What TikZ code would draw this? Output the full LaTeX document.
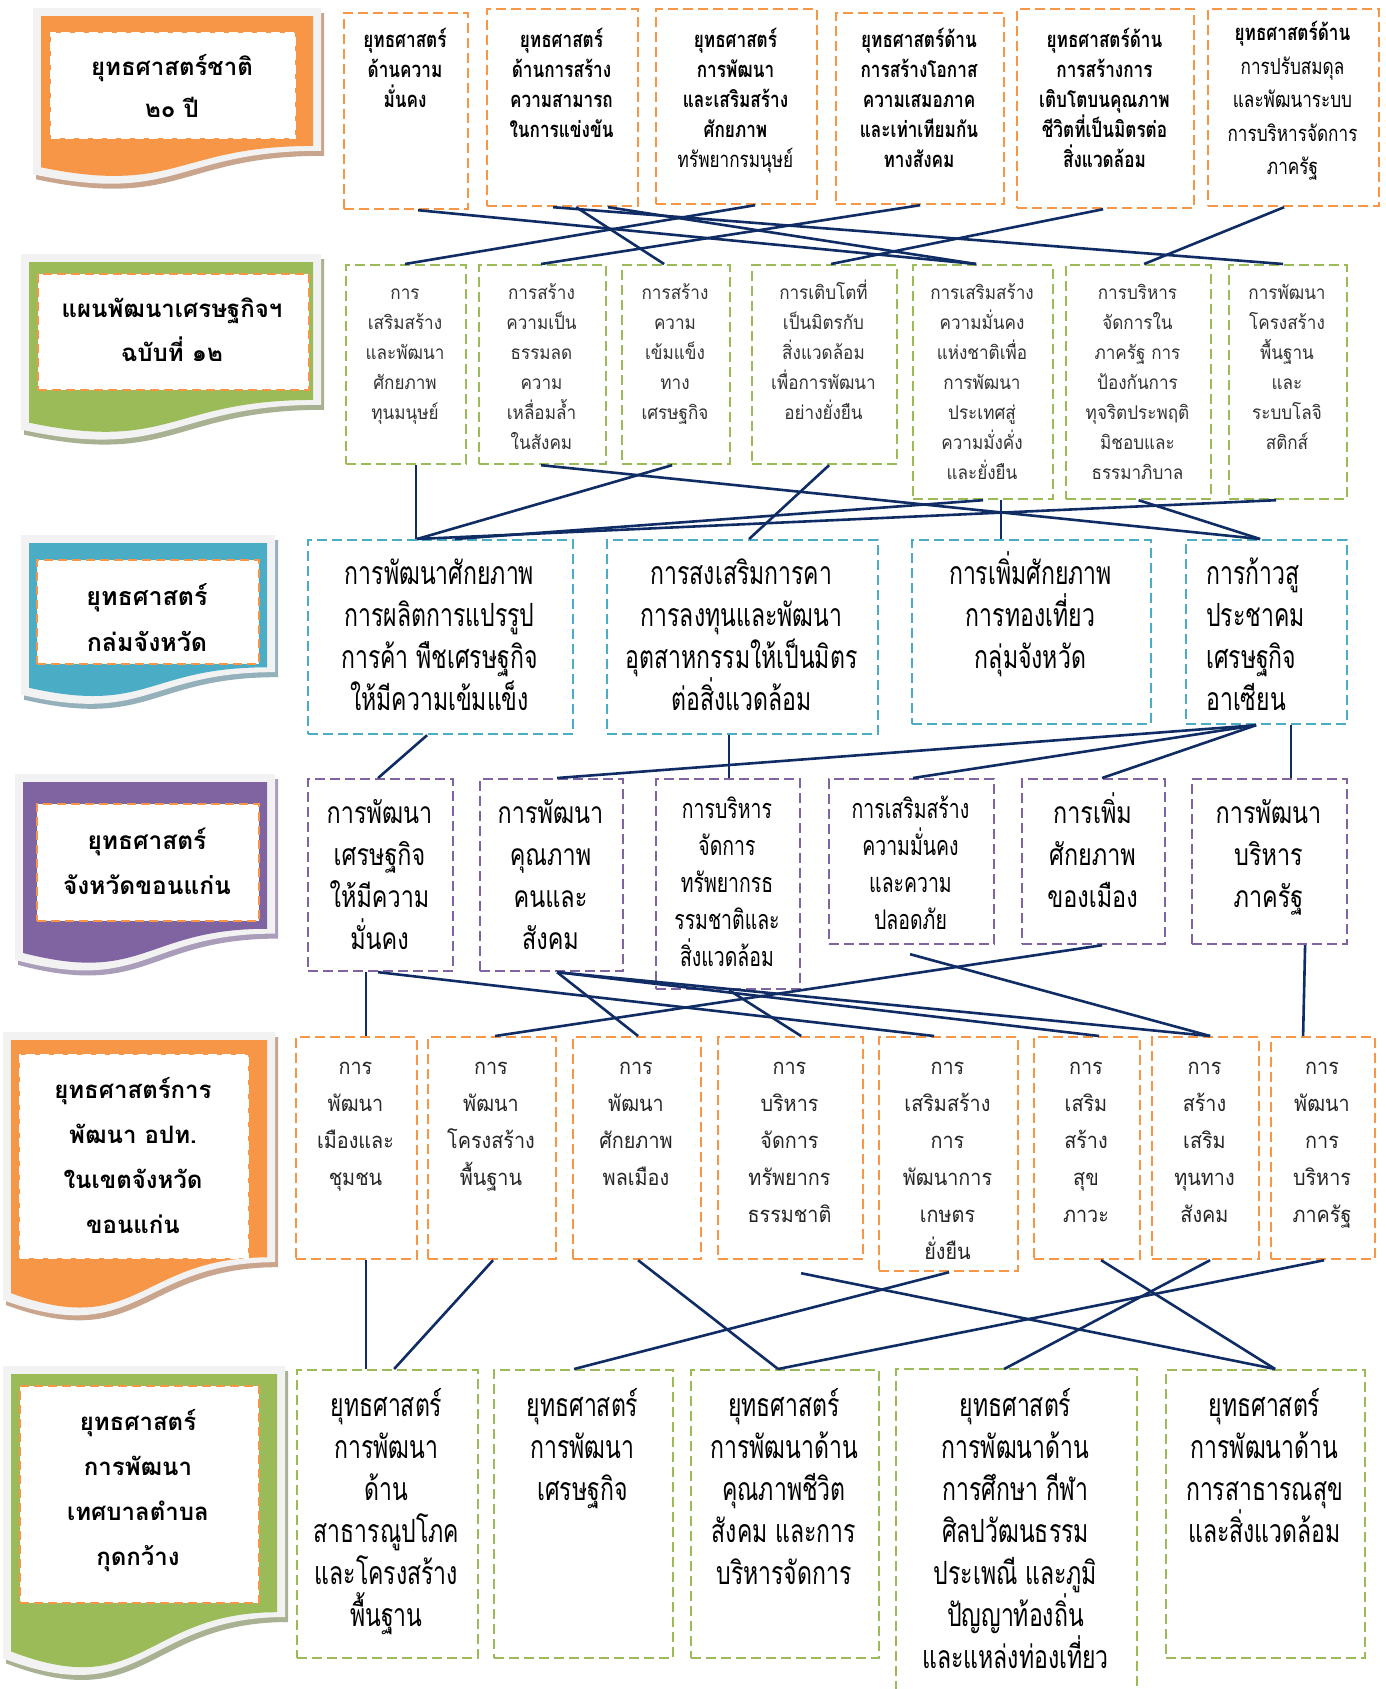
\documentclass[tikz,border=0pt]{standalone}
\usepackage{fontspec}
\usepackage{tikz}
\setmainfont[Script=Thai]{Loma}
\newfontfamily\loma[Script=Thai]{Loma}
\newfontfamily\lomam[Script=Thai,FakeStretch=0.9]{Loma}
\newfontfamily\lomac[Script=Thai,FakeStretch=0.78]{Loma}
\newfontfamily\lomat[Script=Thai,FakeStretch=0.72]{Loma}

\definecolor{orangeacc}{HTML}{F79646}
\definecolor{greenacc}{HTML}{9BBB59}
\definecolor{tealacc}{HTML}{4BACC6}
\definecolor{purpleacc}{HTML}{8064A2}
\definecolor{navyline}{HTML}{102C64}
\definecolor{cardframe}{HTML}{F2F2F2}
\definecolor{tanshadow}{HTML}{C8A58C}
\definecolor{greenshadow}{HTML}{A9B193}
\definecolor{tealshadow}{HTML}{93B0BB}
\definecolor{purpleshadow}{HTML}{A99DB9}

\newcommand{\tstrut}{\rule{0pt}{.85\baselineskip}}
% wavy "document" card used for the level labels on the left
\newcommand{\docpath}[4]{({#1},{#2}) -- ({#1+#3},{#2}) -- ({#1+#3},{#2+0.802*#4})
  .. controls ({#1+0.5*#3},{#2+0.802*#4}) and ({#1+0.5*#3},{#2+1.107*#4}) .. ({#1},{#2+0.934*#4}) -- cycle}
\newcommand{\card}[6]{%
  \pgfmathsetmacro{\cardx}{#1-8}\pgfmathsetmacro{\cardy}{#2-8}%
  \pgfmathsetmacro{\cardw}{#3+16}\pgfmathsetmacro{\cardh}{#4+16}%
  \pgfmathsetmacro{\shx}{#1-5}\pgfmathsetmacro{\shy}{#2-3}%
  \fill[#6] \docpath{\shx}{\shy}{\cardw}{\cardh};
  \fill[cardframe] \docpath{\cardx}{\cardy}{\cardw}{\cardh};
  \fill[#5] \docpath{#1}{#2}{#3}{#4};}

\begin{document}
\begin{tikzpicture}[x=1pt, y=-1pt,
    link/.style={draw=navyline, line width=2.6pt},
    boxbase/.style={rectangle, anchor=north west, inner sep=0pt, line width=2.2pt, dash pattern=on 10pt off 5pt},
    obox/.style={boxbase, draw=orangeacc},
    gbox/.style={boxbase, draw=greenacc},
    tbox/.style={boxbase, draw=tealacc},
    pbox/.style={boxbase, draw=purpleacc},
    inbox/.style={boxbase, fill=white, line width=2pt, dash pattern=on 9pt off 5pt},
    txt/.style={anchor=north, align=center, inner sep=0pt},
    ta/.style={txt, font=\lomac\bfseries\fontsize{22}{30}\selectfont},
    tb/.style={txt, text=black!80, font=\lomam\fontsize{19}{30}\selectfont},
    tc/.style={txt, font=\lomat\fontsize{32}{42}\selectfont},
    td/.style={txt, font=\lomac\fontsize{30}{42}\selectfont},
    tds/.style={txt, font=\lomat\fontsize{27}{37}\selectfont},
    te/.style={txt, text=black!85, font=\lomam\fontsize{22}{37}\selectfont},
    tf/.style={txt, font=\lomat\fontsize{32}{42}\selectfont},
    tl/.style={align=center, inner sep=0pt, font=\loma\bfseries\fontsize{24}{42}\selectfont}]

\useasboundingbox (0,0) rectangle (1386,1689);
\fill[white] (0,0) rectangle (1386,1689);

% level labels
\card{41}{16}{272}{162}{orangeacc}{tanshadow}
\card{29}{262}{284}{172}{greenacc}{greenshadow}
\card{29}{543}{238}{155}{tealacc}{tealshadow}
\card{23}{782}{244}{183}{purpleacc}{purpleshadow}
\card{11}{1040}{256}{271}{orangeacc}{tanshadow}
\card{11}{1374}{266}{297}{greenacc}{greenshadow}

\node[inbox, draw=white, minimum width=244pt, minimum height=105pt] (l1box) at (50,32) {};
\node[inbox, draw=orangeacc, minimum width=271pt, minimum height=116pt] (l2box) at (37,273) {};
\node[inbox, draw=orangeacc, minimum width=222pt, minimum height=104pt] (l3box) at (36,559) {};
\node[inbox, draw=orangeacc, minimum width=222pt, minimum height=117pt] (l4box) at (36,803) {};
\node[inbox, draw=white, minimum width=228pt, minimum height=203pt] (l5box) at (19,1054) {};
\node[inbox, draw=orangeacc, minimum width=239pt, minimum height=217pt] (l6box) at (19,1385) {};

\node[tl] (l1) at (172,86) {ยุทธศาสตร์ชาติ\\๒๐ ปี};
\node[tl, font=\loma\bfseries\fontsize{24}{44}\selectfont] (l2) at (172,330) {แผนพัฒนาเศรษฐกิจฯ\\ฉบับที่ ๑๒};
\node[tl, font=\loma\bfseries\fontsize{25}{46}\selectfont] (l3) at (147,618) {ยุทธศาสตร์\\กล่มจังหวัด};
\node[tl, font=\loma\bfseries\fontsize{24.5}{45}\selectfont] (l4) at (147,861) {ยุทธศาสตร์\\จังหวัดขอนแก่น};
\node[tl, font=\loma\bfseries\fontsize{24}{45}\selectfont] (l5) at (133,1156) {ยุทธศาสตร์การ\\พัฒนา อปท.\\ในเขตจังหวัด\\ขอนแก่น};
\node[tl, font=\loma\bfseries\fontsize{24}{45}\selectfont] (l6) at (138,1491) {ยุทธศาสตร์\\การพัฒนา\\เทศบาลตำบล\\กุดกว้าง};

% national strategy
\node[obox, minimum width=124pt, minimum height=196pt] (b1) at (343,12) {};
\node[obox, minimum width=151pt, minimum height=197pt] (b2) at (486,8) {};
\node[obox, minimum width=161pt, minimum height=195pt] (b3) at (655,8) {};
\node[obox, minimum width=168pt, minimum height=191pt] (b4) at (835,12) {};
\node[obox, minimum width=177pt, minimum height=199pt] (b5) at (1016,8) {};
\node[obox, minimum width=171pt, minimum height=197pt] (b6) at (1207,8) {};
\node[ta] (b1t) at (405,22) {\tstrut ยุทธศาสตร์\\ด้านความ\\มั่นคง};
\node[ta] (b2t) at (561.5,22) {\tstrut ยุทธศาสตร์\\ด้านการสร้าง\\ความสามารถ\\ในการแข่งขัน};
\node[ta] (b3t) at (735.5,22) {\tstrut ยุทธศาสตร์\\การพัฒนา\\และเสริมสร้าง\\ศักยภาพ\\{\mdseries ทรัพยากรมนุษย์}};
\node[ta] (b4t) at (919,22) {\tstrut ยุทธศาสตร์ด้าน\\การสร้างโอกาส\\ความเสมอภาค\\และเท่าเทียมกัน\\ทางสังคม};
\node[ta] (b5t) at (1104.5,22) {\tstrut ยุทธศาสตร์ด้าน\\การสร้างการ\\เติบโตบนคุณภาพ\\ชีวิตที่เป็นมิตรต่อ\\สิ่งแวดล้อม};
\node[ta, font=\lomac\bfseries\fontsize{22}{33.5}\selectfont] (b6t) at (1292.5,12) {\tstrut ยุทธศาสตร์ด้าน\\{\mdseries การปรับสมดุล}\\{\mdseries และพัฒนาระบบ}\\{\mdseries การบริหารจัดการ}\\{\mdseries ภาครัฐ}};

% 12th plan
\node[gbox, minimum width=120pt, minimum height=199pt] (c1) at (345,264) {};
\node[gbox, minimum width=127pt, minimum height=199pt] (c2) at (478,264) {};
\node[gbox, minimum width=108pt, minimum height=199pt] (c3) at (621,264) {};
\node[gbox, minimum width=145pt, minimum height=199pt] (c4) at (751,264) {};
\node[gbox, minimum width=140pt, minimum height=234pt] (c5) at (912,264) {};
\node[gbox, minimum width=145pt, minimum height=234pt] (c6) at (1065,264) {};
\node[gbox, minimum width=118pt, minimum height=234pt] (c7) at (1228,264) {};
\node[tb] (c1t) at (405,274) {\tstrut การ\\เสริมสร้าง\\และพัฒนา\\ศักยภาพ\\ทุนมนุษย์};
\node[tb] (c2t) at (541.5,274) {\tstrut การสร้าง\\ความเป็น\\ธรรมลด\\ความ\\เหลื่อมล้ำ\\ในสังคม};
\node[tb] (c3t) at (675,274) {\tstrut การสร้าง\\ความ\\เข้มแข็ง\\ทาง\\เศรษฐกิจ};
\node[tb] (c4t) at (823.5,274) {\tstrut การเติบโตที่\\เป็นมิตรกับ\\สิ่งแวดล้อม\\เพื่อการพัฒนา\\อย่างยั่งยืน};
\node[tb] (c5t) at (982,274) {\tstrut การเสริมสร้าง\\ความมั่นคง\\แห่งชาติเพื่อ\\การพัฒนา\\ประเทศสู่\\ความมั่งคั่ง\\และยั่งยืน};
\node[tb] (c6t) at (1137.5,274) {\tstrut การบริหาร\\จัดการใน\\ภาครัฐ การ\\ป้องกันการ\\ทุจริตประพฤติ\\มิชอบและ\\ธรรมาภิบาล};
\node[tb] (c7t) at (1287,274) {\tstrut การพัฒนา\\โครงสร้าง\\พื้นฐาน\\และ\\ระบบโลจิ\\สติกส์};

% province group
\node[tbox, minimum width=265pt, minimum height=194pt] (d1) at (307,539) {};
\node[tbox, minimum width=271pt, minimum height=194pt] (d2) at (606,539) {};
\node[tbox, minimum width=239pt, minimum height=184pt] (d3) at (911,539) {};
\node[tbox, minimum width=161pt, minimum height=184pt] (d4) at (1185,539) {};
\node[tc] (d1t) at (439.5,549) {\tstrut การพัฒนาศักยภาพ\\การผลิตการแปรรูป\\การค้า พืชเศรษฐกิจ\\ให้มีความเข้มแข็ง};
\node[tc] (d2t) at (741.5,549) {\tstrut การสงเสริมการคา\\การลงทุนและพัฒนา\\อุตสาหกรรมให้เป็นมิตร\\ต่อสิ่งแวดล้อม};
\node[tc] (d3t) at (1030.5,549) {\tstrut การเพิ่มศักยภาพ\\การทองเที่ยว\\กลุ่มจังหวัด};
\node[tc, anchor=north west, align=left] (d4t) at (1206,549) {\tstrut การก้าวสู\\ประชาคม\\เศรษฐกิจ\\อาเซียน};

% Khon Kaen province
\node[pbox, minimum width=145pt, minimum height=192pt] (e1) at (307,778) {};
\node[pbox, minimum width=143pt, minimum height=192pt] (e2) at (479,778) {};
\node[pbox, minimum width=144pt, minimum height=210pt] (e3) at (655,778) {};
\node[pbox, minimum width=165pt, minimum height=165pt] (e4) at (828,778) {};
\node[pbox, minimum width=143pt, minimum height=165pt] (e5) at (1021,778) {};
\node[pbox, minimum width=155pt, minimum height=165pt] (e6) at (1191,778) {};
\node[td] (e1t) at (379.5,788) {\tstrut การพัฒนา\\เศรษฐกิจ\\ให้มีความ\\มั่นคง};
\node[td] (e2t) at (550.5,788) {\tstrut การพัฒนา\\คุณภาพ\\คนและ\\สังคม};
\node[tds] (e3t) at (727,787) {\tstrut การบริหาร\\จัดการ\\ทรัพยากรธ\\รรมชาติและ\\สิ่งแวดล้อม};
\node[tds] (e4t) at (910.5,787) {\tstrut การเสริมสร้าง\\ความมั่นคง\\และความ\\ปลอดภัย};
\node[td] (e5t) at (1092.5,788) {\tstrut การเพิ่ม\\ศักยภาพ\\ของเมือง};
\node[td] (e6t) at (1268.5,788) {\tstrut การพัฒนา\\บริหาร\\ภาครัฐ};

% local government
\node[obox, minimum width=121pt, minimum height=222pt] (f1) at (295,1036) {};
\node[obox, minimum width=128pt, minimum height=222pt] (f2) at (427,1036) {};
\node[obox, minimum width=128pt, minimum height=222pt] (f3) at (572,1036) {};
\node[obox, minimum width=145pt, minimum height=222pt] (f4) at (717,1036) {};
\node[obox, minimum width=139pt, minimum height=234pt] (f5) at (878,1036) {};
\node[obox, minimum width=106pt, minimum height=222pt] (f6) at (1033,1036) {};
\node[obox, minimum width=107pt, minimum height=222pt] (f7) at (1151,1036) {};
\node[obox, minimum width=104pt, minimum height=222pt] (f8) at (1270,1036) {};
\node[te] (f1t) at (355.5,1043) {\tstrut การ\\พัฒนา\\เมืองและ\\ชุมชน};
\node[te] (f2t) at (491,1043) {\tstrut การ\\พัฒนา\\โครงสร้าง\\พื้นฐาน};
\node[te] (f3t) at (636,1043) {\tstrut การ\\พัฒนา\\ศักยภาพ\\พลเมือง};
\node[te] (f4t) at (789.5,1043) {\tstrut การ\\บริหาร\\จัดการ\\ทรัพยากร\\ธรรมชาติ};
\node[te] (f5t) at (947.5,1043) {\tstrut การ\\เสริมสร้าง\\การ\\พัฒนาการ\\เกษตร\\ยั่งยืน};
\node[te] (f6t) at (1086,1043) {\tstrut การ\\เสริม\\สร้าง\\สุข\\ภาวะ};
\node[te] (f7t) at (1204.5,1043) {\tstrut การ\\สร้าง\\เสริม\\ทุนทาง\\สังคม};
\node[te] (f8t) at (1322,1043) {\tstrut การ\\พัฒนา\\การ\\บริหาร\\ภาครัฐ};

% municipality
\node[gbox, minimum width=181pt, minimum height=288pt] (g1) at (296,1369) {};
\node[gbox, minimum width=179pt, minimum height=288pt] (g2) at (493,1369) {};
\node[gbox, minimum width=188pt, minimum height=288pt] (g3) at (690,1369) {};
\node[gbox, draw=none, minimum width=239pt, minimum height=320pt] (g4) at (896,1369) {};
\node[gbox, minimum width=199pt, minimum height=288pt] (g5) at (1165,1369) {};
\draw[boxbase, draw=greenacc] (g4.south west) -- (g4.north west) -- (g4.north east) -- (g4.south east);
\node[tf] (g1t) at (386.5,1381) {\tstrut ยุทธศาสตร์\\การพัฒนา\\ด้าน\\สาธารณูปโภค\\และโครงสร้าง\\พื้นฐาน};
\node[tf] (g2t) at (582.5,1381) {\tstrut ยุทธศาสตร์\\การพัฒนา\\เศรษฐกิจ};
\node[tf] (g3t) at (784,1381) {\tstrut ยุทธศาสตร์\\การพัฒนาด้าน\\คุณภาพชีวิต\\สังคม และการ\\บริหารจัดการ};
\node[tf] (g4t) at (1015.5,1381) {\tstrut ยุทธศาสตร์\\การพัฒนาด้าน\\การศึกษา กีฬา\\ศิลปวัฒนธรรม\\ประเพณี และภูมิ\\ปัญญาท้องถิ่น\\และแหล่งท่องเที่ยว};
\node[tf] (g5t) at (1264.5,1381) {\tstrut ยุทธศาสตร์\\การพัฒนาด้าน\\การสาธารณสุข\\และสิ่งแวดล้อม};

% national strategy -> 12th plan
\draw[link] ([xshift=12pt]b1.south) -- ([xshift=-7pt]c5.north);
\draw[link] ([xshift=-9.5pt]b2.south) -- ([xshift=-5pt]c7.north);
\draw[link] ([xshift=13.5pt]b2.south) -- ([xshift=-12pt]c3.north);
\draw[link] ([xshift=45.5pt]b2.south) -- ([xshift=-7pt]c5.north);
\draw[link] ([xshift=18.5pt]b3.south) -- ([xshift=-1pt]c1.north);
\draw[link] (b4.south) -- ([xshift=-1.5pt]c2.north);
\draw[link] ([xshift=-2.5pt]b5.south) -- ([xshift=6.5pt]c4.north);
\draw[link] ([xshift=-9.5pt]b6.south) -- ([xshift=5.5pt]c6.north);

% 12th plan -> province group
\draw[link] ([xshift=10pt]c1.south) -- ([xshift=-24.5pt]d1.north);
\draw[link] ([xshift=-4pt]c3.south) -- ([xshift=-23.5pt]d1.north);
\draw[link] ([xshift=4.5pt]c4.south) -- ([xshift=6.5pt]d2.north);
\draw[link] ([xshift=-1.5pt]c2.south) -- ([xshift=-6.5pt]d4.north);
\draw[link] ([xshift=18pt]c5.south) -- ([xshift=-30.5pt]d3.north);
\draw[link] (c5.south) -- ([xshift=14.5pt]d1.north);
\draw[link] (c6.south) -- ([xshift=-6.5pt]d4.north);
\draw[link] ([xshift=-12pt]c7.south) -- ([xshift=-23.5pt]d1.north);

% province group -> province
\draw[link] ([xshift=-13.5pt]d1.south) -- ([xshift=-2.5pt]e1.north);
\draw[link] ([xshift=-13.5pt]d2.south) -- ([xshift=1pt]e3.north);
\draw[link] ([xshift=-10.5pt]d4.south) -- ([xshift=5.5pt]e2.north);
\draw[link] ([xshift=-10.5pt]d4.south) -- ([xshift=1.5pt]e4.north);
\draw[link] ([xshift=-10.5pt]d4.south) -- ([xshift=8.5pt]e5.north);
\draw[link] ([xshift=24.5pt]d4.south) -- ([xshift=21.5pt]e6.north);

% province -> local government
\draw[link] ([xshift=-14.5pt]e1.south) -- ([xshift=9.5pt]f1.north);
\draw[link] ([xshift=-2.5pt]e1.south) -- ([xshift=-14.5pt]f5.north);
\draw[link] ([xshift=5.5pt]e2.south) -- ([xshift=1pt]f3.north);
\draw[link] ([xshift=5.5pt]e2.south) -- ([xshift=12pt]f6.north);
\draw[link] ([xshift=5.5pt]e2.south) -- ([xshift=4.5pt]f7.north);
\draw[link] ([xshift=1pt]e3.south) -- ([xshift=10.5pt]f4.north);
\draw[link] ([xshift=-1.5pt,yshift=-9pt]e4.south) -- ([xshift=4.5pt]f7.north);
\draw[link] ([xshift=8.5pt]e5.south) -- ([xshift=3pt]f2.north);
\draw[link] ([xshift=35.5pt]e6.south) -- ([xshift=-20pt]f8.north);

% local government -> municipality
\draw[link] ([xshift=9.5pt]f1.south) -- ([xshift=-21.5pt]g1.north);
\draw[link] ([xshift=1pt]f2.south) -- ([xshift=6.5pt]g1.north);
\draw[link] ([xshift=1pt]f3.south) -- ([xshift=-7pt]g3.north);
\draw[link] ([xshift=10.5pt,yshift=-13pt]f4.south) -- ([xshift=9.5pt]g5.north);
\draw[link] ([xshift=0.5pt]f5.south) -- ([xshift=-9.5pt]g2.north);
\draw[link] ([xshift=14pt]f6.south) -- ([xshift=9.5pt]g5.north);
\draw[link] ([xshift=4.5pt]f7.south) -- ([xshift=-12.5pt]g4.north);
\draw[link] ([xshift=1pt]f8.south) -- ([xshift=-7pt]g3.north);
\end{tikzpicture}
\end{document}
